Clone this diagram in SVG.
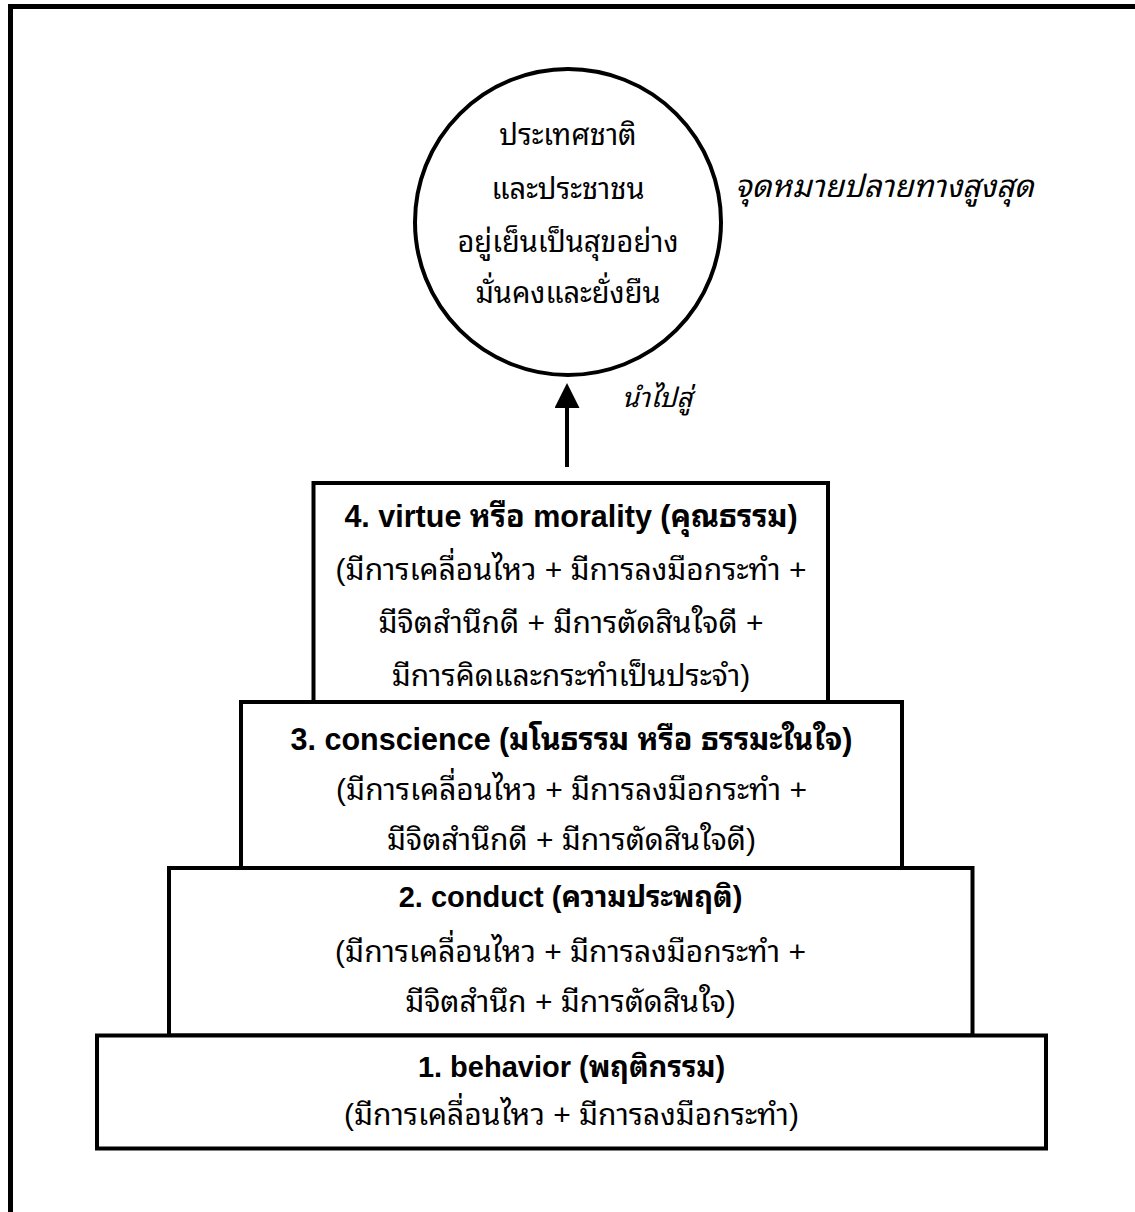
<svg xmlns="http://www.w3.org/2000/svg" width="1135" height="1212" viewBox="0 0 1135 1212">
<defs>
<style>
.frame{stroke:#000;stroke-width:5;fill:none}
.box{fill:#fff;stroke:#000;stroke-width:4}
.t{font-family:"Liberation Sans","Noto Sans Thai Looped","Loma","Garuda","Tahoma","Kinnari","Norasi","Noto Serif Thai","Noto Sans Thai",sans-serif;font-size:30px;fill:#000;text-anchor:middle}
.c{font-size:29px}
.b{font-weight:bold;font-size:29px}
.bl{font-size:30.5px}
.i{font-style:italic;text-anchor:start}
</style>
<marker id="ah" markerWidth="26" markerHeight="25" refX="0" refY="12.5" orient="auto" markerUnits="userSpaceOnUse">
<path d="M0,0 L25,12.5 L0,25 Z" fill="#000"/>
</marker>
</defs>
<rect width="1135" height="1212" fill="#fff"/>
<path class="frame" d="M10.5,1212 V6.5 H1135"/>
<g id="connectors">
<line x1="567" y1="467" x2="567" y2="408" stroke="#000" stroke-width="4" marker-end="url(#ah)"/>
</g>
<g id="goal">
<circle cx="568" cy="222" r="153" fill="#fff" stroke="#000" stroke-width="4"/>
<text class="t c" x="568" y="145">ประเทศชาติ</text>
<text class="t c" x="568" y="199">และประชาชน</text>
<text class="t c" x="568" y="252">อยู่เย็นเป็นสุขอย่าง</text>
<text class="t c" x="568" y="303">มั่นคงและยั่งยืน</text>
</g>
<g id="goal-label"><text class="t i" x="735" y="197" style="font-size:31px">จุดหมายปลายทางสูงสุด</text></g>
<g id="lead-label"><text class="t i" x="622" y="407" style="font-size:27px">นำไปสู่</text></g>
<g id="level4">
<rect class="box" x="313.5" y="483" width="514.5" height="219"/>
<text class="t b bl" x="571" y="527">4. virtue หรือ morality (คุณธรรม)</text>
<text class="t" x="571" y="580">(มีการเคลื่อนไหว + มีการลงมือกระทำ +</text>
<text class="t" x="571" y="633">มีจิตสำนึกดี + มีการตัดสินใจดี +</text>
<text class="t" x="571" y="686">มีการคิดและกระทำเป็นประจำ)</text>
</g>
<g id="level3">
<rect class="box" x="241" y="702" width="661" height="166"/>
<text class="t b bl" x="571.5" y="750">3. conscience (มโนธรรม หรือ ธรรมะในใจ)</text>
<text class="t" x="571.5" y="800">(มีการเคลื่อนไหว + มีการลงมือกระทำ +</text>
<text class="t" x="571.5" y="850">มีจิตสำนึกดี + มีการตัดสินใจดี)</text>
</g>
<g id="level2">
<rect class="box" x="169" y="868" width="803.5" height="167.5"/>
<text class="t b" x="570.5" y="907">2. conduct (ความประพฤติ)</text>
<text class="t" x="570.5" y="962">(มีการเคลื่อนไหว + มีการลงมือกระทำ +</text>
<text class="t" x="570.5" y="1012">มีจิตสำนึก + มีการตัดสินใจ)</text>
</g>
<g id="level1">
<rect class="box" x="97" y="1035.5" width="949" height="113"/>
<text class="t b" x="571.5" y="1077">1. behavior (พฤติกรรม)</text>
<text class="t" x="571.5" y="1125">(มีการเคลื่อนไหว + มีการลงมือกระทำ)</text>
</g>
</svg>
